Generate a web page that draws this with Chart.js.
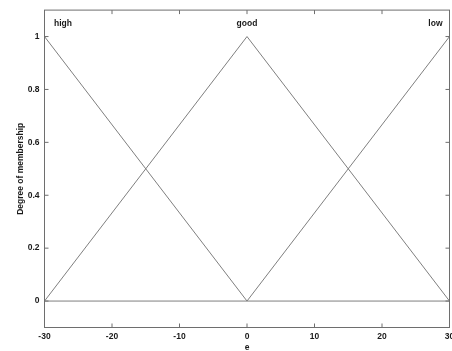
<!DOCTYPE html>
<html>
<head>
<meta charset="utf-8">
<script src="https://cdn.jsdelivr.net/npm/chart.js@4"></script>
<style>
html,body{margin:0;padding:0;background:#fff;}
#wrap{width:452px;height:351px;position:relative;}
</style>
</head>
<body>
<div id="wrap"><canvas id="c"></canvas></div>
<script>
// Data
const xPoints = [-30, 0, 30];
const highValues = [1, 0, 0];
const goodValues = [0, 1, 0];
const lowValues = [0, 0, 1];
const xTicks = [-30, -20, -10, 0, 10, 20, 30];
const yTicks = [0, 0.2, 0.4, 0.6, 0.8, 1];
const mfNames = ['high', 'good', 'low'];
const mfLabelX = [-30, 0, 30];
const mfLabelY = 1.05;

const FONT = "'Liberation Sans', Arial, Helvetica, sans-serif";
const LINE = '#7f7f7f';
const AXIS = '#6e6e6e';
const TXT = '#1a1a1a';

function pts(vals){ return xPoints.map((x,i)=>({x:x, y:vals[i]})); }

const frameAndTicks = {
  id: 'frameAndTicks',
  afterDraw(chart){
    const {ctx, chartArea:a, scales:{x, y}} = chart;
    ctx.save();
    ctx.strokeStyle = AXIS;
    ctx.lineWidth = 1;
    ctx.strokeRect(a.left, a.top, a.right - a.left, a.bottom - a.top);
    const L = 4;
    ctx.beginPath();
    xTicks.forEach(v => {
      const px = x.getPixelForValue(v);
      ctx.moveTo(px, a.bottom); ctx.lineTo(px, a.bottom - L);
      ctx.moveTo(px, a.top); ctx.lineTo(px, a.top + L);
    });
    yTicks.forEach(v => {
      const py = y.getPixelForValue(v);
      ctx.moveTo(a.left, py); ctx.lineTo(a.left + L, py);
      ctx.moveTo(a.right, py); ctx.lineTo(a.right - L, py);
    });
    ctx.stroke();
    // membership function names
    ctx.fillStyle = TXT;
    ctx.font = 'bold 8.5px ' + FONT;
    ctx.textBaseline = 'middle';
    const aligns = ['left', 'center', 'right'];
    const offs = [9.5, 0, -7];
    mfNames.forEach((n, i) => {
      ctx.textAlign = aligns[i];
      ctx.fillText(n, x.getPixelForValue(mfLabelX[i]) + offs[i], y.getPixelForValue(mfLabelY));
    });
    ctx.restore();
  }
};

const ds = (label, vals) => ({
  label, data: pts(vals), borderColor: LINE, borderWidth: 1,
  pointRadius: 0, fill: false, tension: 0
});

const tickFont = { family: FONT, size: 8.5, weight: 'bold' };

new Chart(document.getElementById('c'), {
  type: 'line',
  data: { datasets: [ds('high', highValues), ds('good', goodValues), ds('low', lowValues)] },
  options: {
    responsive: true, maintainAspectRatio: false, animation: false,
    layout: { padding: { top: 5.5, right: 2.5, left: 0, bottom: 0 } },
    plugins: { legend: { display: false }, tooltip: { enabled: false } },
    scales: {
      x: {
        type: 'linear', min: -30, max: 30,
        afterBuildTicks: s => { s.ticks = xTicks.map(v => ({value: v})); },
        afterFit: s => { s.height = 23.5; s.paddingLeft = 0; s.paddingRight = 0; },
        grid: { display: false, drawTicks: false },
        border: { display: false },
        ticks: { color: TXT, padding: 4, font: tickFont, maxRotation: 0, autoSkip: false },
        title: { display: true, text: 'e', color: TXT, font: { family: FONT, size: 8.5, weight: 'bold', lineHeight: 0.8 }, padding: 0 }
      },
      y: {
        min: -0.1, max: 1.1,
        afterBuildTicks: s => { s.ticks = yTicks.map(v => ({value: v})); },
        afterFit: s => { s.width = 44.5; },
        grid: { display: false, drawTicks: false },
        border: { display: false },
        ticks: { color: TXT, padding: 5, font: tickFont, callback: v => String(Math.round(v*10)/10) },
        title: { display: true, text: 'Degree of membership', color: TXT, font: { family: FONT, size: 8.5, weight: 'bold', lineHeight: 1.2 }, padding: { top: 16, bottom: 0 } }
      }
    }
  },
  plugins: [frameAndTicks]
});
</script>
</body>
</html>
